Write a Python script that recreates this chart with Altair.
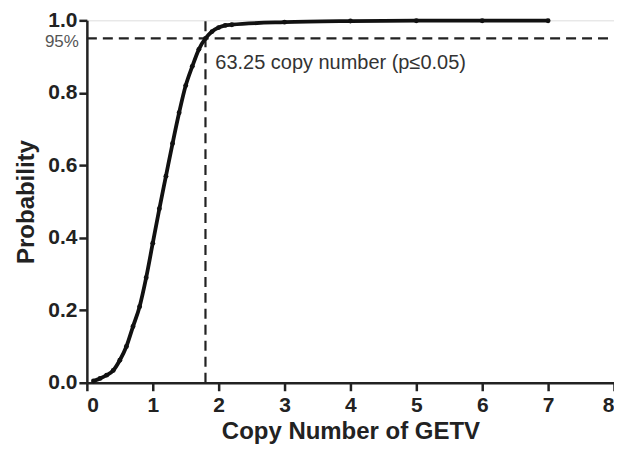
import altair as alt
import pandas as pd

copy_number = [0.1, 0.2, 0.3, 0.4, 0.5, 0.6, 0.7, 0.8, 0.9, 1.0, 1.1, 1.2, 1.3, 1.4,
               1.5, 1.6, 1.7, 1.8, 1.9, 2.0, 2.1, 2.2, 3, 4, 5, 6, 7]
probability = [0.005, 0.012, 0.021, 0.034, 0.062, 0.10, 0.155, 0.21, 0.29, 0.385, 0.48,
               0.57, 0.66, 0.745, 0.82, 0.873, 0.92, 0.95, 0.969, 0.98, 0.986, 0.988,
               0.995, 0.998, 0.999, 0.999, 0.999]
cutoff_x = [1.8]
cutoff_y = [0.95]
x_ticks = [0, 1, 2, 3, 4, 5, 6, 7, 8]
y_ticks = [0.0, 0.2, 0.4, 0.6, 0.8, 1.0]
annotation = ["63.25 copy number (p≤0.05)"]
pct_label = ["95%"]

df = pd.DataFrame({"x": copy_number, "y": probability})

xscale = alt.Scale(domain=[0, 8], nice=False)
yscale = alt.Scale(domain=[0, 1], nice=False)

x_axis = alt.Axis(values=x_ticks, format="d", grid=False, title="Copy Number of GETV",
                  labelFont="Liberation Sans", labelFontWeight="bold", labelFontSize=21,
                  labelColor="#222", titleFont="Liberation Sans", titleFontWeight="bold",
                  titleFontSize=24, titleColor="#222", titlePadding=4,
                  domainColor="#222", domainWidth=2.5, tickColor="#222", tickWidth=2.5,
                  tickSize=8, labelPadding=4)
y_axis = alt.Axis(values=y_ticks, format=".1f", grid=False, title="Probability",
                  labelFont="Liberation Sans", labelFontWeight="bold", labelFontSize=21,
                  labelColor="#222", titleFont="Liberation Sans", titleFontWeight="bold",
                  titleFontSize=24, titleColor="#222", titlePadding=9,
                  domainColor="#222", domainWidth=2.5, tickColor="#222", tickWidth=2.5,
                  tickSize=8, labelPadding=2)

line = alt.Chart(df).mark_line(color="#111", strokeWidth=3.8, interpolate="monotone").encode(
    x=alt.X("x:Q", scale=xscale, axis=x_axis),
    y=alt.Y("y:Q", scale=yscale, axis=y_axis),
)
pts = alt.Chart(df).mark_point(filled=True, color="#111", size=24, opacity=1).encode(
    x=alt.X("x:Q", scale=xscale),
    y=alt.Y("y:Q", scale=yscale),
)

hdf = pd.DataFrame({"y": cutoff_y, "x0": [0], "x1": [8]})
hrule = alt.Chart(hdf).mark_rule(color="#222", strokeWidth=2.2, strokeDash=[10, 6]).encode(
    y=alt.Y("y:Q", scale=yscale), x=alt.X("x0:Q", scale=xscale), x2="x1:Q")

vdf = pd.DataFrame({"x": cutoff_x, "y0": [0], "y1": [1]})
vrule = alt.Chart(vdf).mark_rule(color="#222", strokeWidth=2.2, strokeDash=[10, 6]).encode(
    x=alt.X("x:Q", scale=xscale), y=alt.Y("y0:Q", scale=yscale), y2="y1:Q")

adf = pd.DataFrame({"x": [1.95], "y": [0.881], "t": annotation})
ann = alt.Chart(adf).mark_text(align="left", baseline="middle", font="Liberation Sans",
                                fontSize=20, color="#333").encode(
    x=alt.X("x:Q", scale=xscale), y=alt.Y("y:Q", scale=yscale), text="t:N")

pdf = pd.DataFrame({"y": cutoff_y, "t": pct_label})
pct = alt.Chart(pdf).mark_text(align="right", baseline="middle", font="Liberation Sans",
                                fontSize=17, color="#555", dy=4).encode(
    x=alt.value(-8), y=alt.Y("y:Q", scale=yscale), text="t:N")

chart = alt.layer(hrule, vrule, line, pts, ann, pct).properties(
    width=528, height=363,
    autosize=alt.AutoSizeParams(type="none"),
    padding={"left": 79, "top": 12, "right": 0, "bottom": 62},
).configure_view(stroke=None).configure(background="white")

chart.save("out.html", embed_options={"renderer": "svg", "actions": False})
